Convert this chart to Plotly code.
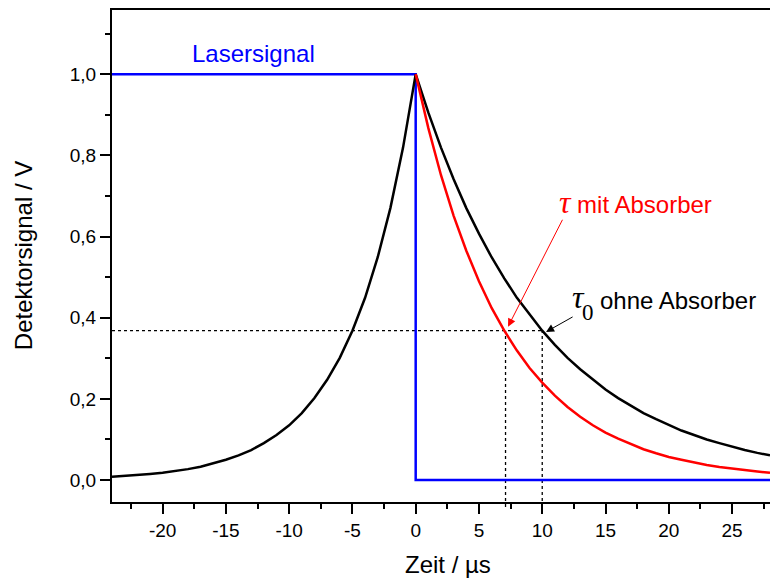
import plotly.graph_objects as go

# Time axis in microseconds
t_rise = [-24, -23, -22, -21, -20, -19, -18, -17, -16, -15, -14, -13, -12,
          -11, -10, -9, -8, -7, -6, -5, -4, -3, -2, -1, 0]
t_decay = [0, 1, 2, 3, 4, 5, 6, 7, 8, 9, 10, 11, 12, 13, 14, 15, 16, 17, 18,
           19, 20, 21, 22, 23, 24, 25, 26, 27, 28]

# Detector signal (V)
rise_signal = [0.008, 0.010, 0.012, 0.015, 0.018, 0.022, 0.027, 0.033, 0.041,
               0.050, 0.061, 0.074, 0.091, 0.111, 0.135, 0.165, 0.202, 0.247,
               0.301, 0.368, 0.449, 0.549, 0.670, 0.819, 1.000]
decay_without_absorber = [1.000, 0.905, 0.819, 0.741, 0.670, 0.607, 0.549,
                          0.497, 0.449, 0.407, 0.368, 0.333, 0.301, 0.273,
                          0.247, 0.223, 0.202, 0.183, 0.165, 0.150, 0.135,
                          0.122, 0.111, 0.100, 0.091, 0.082, 0.074, 0.067,
                          0.061]
decay_with_absorber = [1.000, 0.867, 0.751, 0.651, 0.565, 0.490, 0.424, 0.368,
                       0.319, 0.276, 0.240, 0.208, 0.180, 0.156, 0.135, 0.117,
                       0.102, 0.088, 0.076, 0.066, 0.057, 0.050, 0.043, 0.037,
                       0.032, 0.028, 0.024, 0.021, 0.018]

# Laser signal: on until t = 0, then switched off
laser_t = [-24, 0, 0, 28]
laser_signal = [1.0, 1.0, 0.0, 0.0]

# 1/e level and the two decay times
level_1e = 0.368
tau_absorber = 7.1
tau_0 = 10.0

x_ticks = [-20, -15, -10, -5, 0, 5, 10, 15, 20, 25]
x_ticklabels = ["-20", "-15", "-10", "-5", "0", "5", "10", "15", "20", "25"]

FONT = "Liberation Sans, Arial, sans-serif"
SERIF = "Liberation Serif, Times New Roman, serif"

fig = go.Figure()

fig.add_trace(go.Scatter(x=laser_t, y=laser_signal, mode="lines",
                         line=dict(color="#0000ff", width=2.5)))
fig.add_trace(go.Scatter(x=t_rise + t_decay[1:],
                         y=rise_signal + decay_without_absorber[1:],
                         mode="lines", line=dict(color="black", width=2.5)))
fig.add_trace(go.Scatter(x=t_decay, y=decay_with_absorber, mode="lines",
                         line=dict(color="#ff0000", width=2.5)))

dot = dict(color="black", width=1.3, dash="dot")
fig.add_shape(type="line", xref="x", yref="y", x0=-24, x1=tau_0,
              y0=level_1e, y1=level_1e, line=dot, layer="below")
for xv in (tau_absorber, tau_0):
    fig.add_shape(type="line", xref="x", yref="paper", x0=xv, x1=xv,
                  y0=-0.01, y1=(level_1e + 0.054) / 1.212, line=dot,
                  layer="below")

TAU = f"<span style='font-family:{SERIF};font-size:32px'><i>τ</i></span>"

fig.add_annotation(x=-12.8, y=1.052, xref="x", yref="y", text="Lasersignal",
                   showarrow=False, xanchor="center", yanchor="middle",
                   font=dict(family=FONT, size=24, color="#0000ff"))
fig.add_annotation(x=11.15, y=0.685, xref="x", yref="y",
                   text=f"{TAU} mit Absorber",
                   showarrow=False, xanchor="left", yanchor="middle",
                   font=dict(family=FONT, size=24, color="#ff0000"))

# τ0 label: symbol, lowered index, then the words
fig.add_annotation(x=12.2, y=0.452, xref="x", yref="y", text=TAU,
                   showarrow=False, xanchor="left", yanchor="middle",
                   font=dict(family=FONT, size=24, color="black"))
fig.add_annotation(x=13.6, y=0.412, xref="x", yref="y", text="0",
                   showarrow=False, xanchor="center", yanchor="middle",
                   font=dict(family=SERIF, size=23, color="black"))
fig.add_annotation(x=14.4, y=0.443, xref="x", yref="y", text="ohne Absorber",
                   showarrow=False, xanchor="left", yanchor="middle",
                   font=dict(family=FONT, size=24, color="black"))

# Arrows pointing at the 1/e crossings
fig.add_annotation(x=7.3, y=0.378, ax=11.66, ay=0.645, xref="x", yref="y",
                   axref="x", ayref="y", text="", showarrow=True,
                   arrowhead=2, arrowsize=1.6, arrowwidth=1,
                   arrowcolor="#ff0000")
fig.add_annotation(x=10.3, y=0.365, ax=12.52, ay=0.404, xref="x", yref="y",
                   axref="x", ayref="y", text="", showarrow=True,
                   arrowhead=2, arrowsize=1.6, arrowwidth=1,
                   arrowcolor="black")

# Axis titles
fig.add_annotation(x=0.51, y=-0.128, xref="paper", yref="paper",
                   text="Zeit / µs", showarrow=False,
                   xanchor="center", yanchor="middle",
                   font=dict(family=FONT, size=24, color="black"))
fig.add_annotation(x=-0.135, y=0.5, xref="paper", yref="paper",
                   text="Detektorsignal / V", showarrow=False, textangle=-90,
                   xanchor="center", yanchor="middle",
                   font=dict(family=FONT, size=24, color="black"))

fig.update_layout(
    width=771, height=578,
    margin=dict(l=112, r=1, t=10, b=76),
    paper_bgcolor="white", plot_bgcolor="white",
    showlegend=False,
    separators=",.",
    font=dict(family=FONT, size=19, color="black"),
    xaxis=dict(range=[-24, 28], tickvals=x_ticks, ticktext=x_ticklabels,
               ticks="outside", ticklen=10, tickwidth=2, tickcolor="black",
               showline=True, linewidth=2, linecolor="black", mirror=True,
               showgrid=False, zeroline=False,
               minor=dict(dtick=2.5, tick0=0, ticks="outside", ticklen=5,
                          tickwidth=2, tickcolor="black", showgrid=False)),
    yaxis=dict(range=[-0.054, 1.158], tick0=0, dtick=0.2, tickformat=".1f",
               ticks="outside", ticklen=10, tickwidth=2, tickcolor="black",
               showline=True, linewidth=2, linecolor="black",
               showgrid=False, zeroline=False,
               minor=dict(dtick=0.1, tick0=0, ticks="outside", ticklen=5,
                          tickwidth=2, tickcolor="black", showgrid=False)),
)

fig.write_html("out.html")
